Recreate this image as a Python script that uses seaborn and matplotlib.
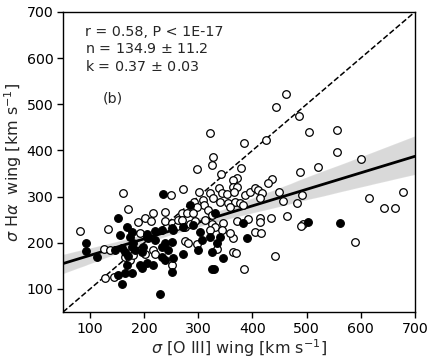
import numpy as np
import pandas as pd
import matplotlib
matplotlib.use('Agg')
import matplotlib.pyplot as plt
import seaborn as sns

### data (km/s) ###
# open circles
open_x = [161, 249, 170, 189, 201, 213, 216, 238, 81, 133, 192, 238, 251, 261, 262, 126, 137, 165, 174, 179,
          201, 216, 220, 251, 128, 144,
          327, 325, 298, 342, 272, 301, 322, 338, 344, 353, 327, 292, 309, 310, 298, 340, 355, 318, 325, 270,
          279, 290, 270, 275, 285, 294, 312, 325, 331, 346, 344, 322, 275, 281, 298, 334, 322,
          462, 443, 486, 504, 556, 384, 425, 556, 600, 521, 488, 379, 436, 429, 449, 491, 456, 482, 615, 678,
          643, 663, 589, 464, 434, 414, 414, 392, 371, 405, 416, 493, 490, 442, 384, 364, 364, 370, 358, 371,
          364, 364, 371, 366, 386, 395, 405, 410, 418, 414, 368, 377, 383, 358]
open_y = [308, 304, 273, 245, 254, 247, 265, 267, 226, 230, 221, 247, 243, 236, 249, 187, 184, 169, 163, 174,
          176, 184, 176, 152, 124, 126,
          386, 369, 360, 349, 317, 310, 308, 319, 308, 306, 297, 288, 293, 282, 278, 288, 286, 271, 260, 265,
          265, 265, 249, 234, 241, 247, 249, 241, 234, 243, 228, 228, 204, 200, 197, 187, 438,
          522, 494, 475, 440, 444, 416, 423, 397, 382, 364, 353, 362, 338, 330, 310, 304, 291, 286, 297, 310,
          275, 275, 202, 258, 254, 254, 245, 252, 247, 223, 221, 241, 236, 171, 143, 210, 180, 178, 221, 340,
          336, 321, 321, 310, 304, 310, 319, 314, 308, 297, 288, 286, 282, 278]

# filled circles
filled_x = [235, 152, 168, 155, 177, 174, 205, 220, 233, 205, 251, 253, 93, 93, 113, 146, 159, 165, 170, 177,
            179, 183, 198, 196, 207, 220, 233, 238, 251, 244, 233, 238, 253, 168, 192, 205, 216, 196, 251, 152,
            165, 177, 159, 229,
            285, 331, 290, 272, 303, 322, 307, 334, 340, 272, 299, 325, 346, 325, 329,
            383, 503, 562, 390]
filled_y = [306, 254, 234, 217, 223, 213, 219, 226, 228, 213, 232, 228, 200, 182, 169, 184, 189, 180, 171, 191,
            200, 184, 191, 180, 210, 206, 191, 200, 202, 184, 169, 163, 167, 152, 152, 156, 152, 145, 137, 130,
            135, 135, 111, 89,
            282, 265, 239, 234, 223, 213, 206, 200, 213, 176, 184, 180, 167, 143, 143,
            243, 245, 243, 210]

stats_text = 'r = 0.58, P < 1E-17\nn = 134.9 $\\pm$ 11.2\nk = 0.37 $\\pm$ 0.03'
panel_label = '(b)'
lims = [50, 700]

df = pd.DataFrame({
    'oiii': open_x + filled_x,
    'ha': open_y + filled_y,
    'kind': ['open'] * len(open_x) + ['filled'] * len(filled_x),
})

### plot ###
sns.set_style('ticks')
plt.rcParams['font.family'] = ['DejaVu Sans']
plt.rcParams['mathtext.fontset'] = 'dejavusans'

fig = plt.figure(figsize=(4.36, 3.62), dpi=100)
ax = fig.add_axes([0.1445, 0.138, 0.807, 0.829])
ax.set_xlim(lims)
ax.set_ylim(lims)

# 1:1 line
sns.lineplot(x=lims, y=lims, ax=ax, color='black', lw=1.1, linestyle='--')

# linear fit with confidence band (band = black at alpha .15 -> light grey)
sns.regplot(data=df, x='oiii', y='ha', ax=ax, scatter=False, truncate=False, seed=3,
            line_kws={'color': 'black', 'lw': 2}, color='black')

sns.scatterplot(data=df[df.kind == 'open'], x='oiii', y='ha', ax=ax, s=30, marker='o',
                facecolor='white', edgecolor='black', linewidth=0.9, zorder=3)
sns.scatterplot(data=df[df.kind == 'filled'], x='oiii', y='ha', ax=ax, s=30, marker='o',
                color='black', edgecolor='black', linewidth=0.9, zorder=4)

ax.set_xlim(lims)
ax.set_ylim(lims)
ax.set_xticks(range(100, 701, 100))
ax.set_yticks(range(100, 701, 100))
ax.tick_params(labelsize=10.2, length=4, width=1, colors='black', pad=3)
for sp in ax.spines.values():
    sp.set_color('black')
    sp.set_linewidth(1)

ax.text(0.062, 0.957, stats_text, transform=ax.transAxes, fontsize=10.3, va='top', ha='left', linespacing=1.28)
ax.text(0.114, 0.713, panel_label, transform=ax.transAxes, fontsize=10.3, va='center', ha='left')

ax.set_xlabel(r'$\sigma$ [O III] wing [km s$^{-1}$]', fontsize=11.5, labelpad=1)
ax.set_ylabel(r'$\sigma$ H$\alpha$  wing [km s$^{-1}$]', fontsize=11.5, labelpad=2)

fig.savefig('out.png', dpi=100)
